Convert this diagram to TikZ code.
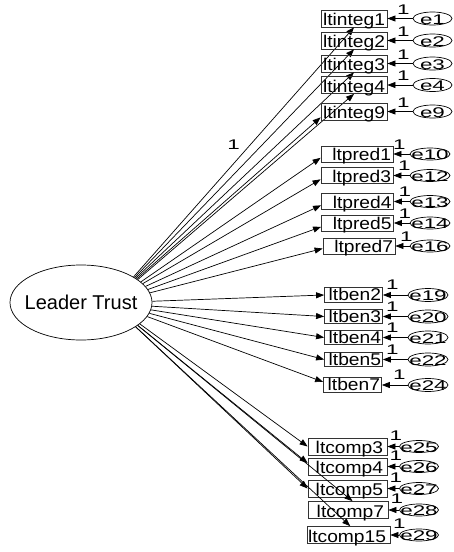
\documentclass[tikz,border=0pt]{standalone}
\usepackage{fontspec}
\usetikzlibrary{arrows.meta,shapes.geometric,calc}
\newfontfamily\boxfont[FakeStretch=1.13]{Liberation Sans}
\newfontfamily\errfont[FakeStretch=1.6]{Liberation Sans}
\newfontfamily\latfont{Liberation Sans}
\newcommand{\bt}[3]{\makebox[#1][r]{#2\hspace*{#3}}}
\tikzset{
 arr/.style={draw=black, line width=0.7pt, -{Triangle[length=8pt,width=6pt]}},
 obs/.style={draw=black!80, line width=0.8pt, rectangle, inner sep=0pt, text depth=1.5pt, text height=#1, font=\boxfont\fontsize{17}{17}\selectfont},
 err/.style={draw=black, line width=0.7pt, ellipse, inner sep=0pt, minimum width=39pt, minimum height=#1},
 errtxt/.style={font=\errfont\fontsize{14}{14}\selectfont, inner sep=0pt, yshift=-1pt},
 one/.style={font=\errfont\fontsize{14}{14}\selectfont, inner sep=0pt},
}
\begin{document}
\begin{tikzpicture}[x=1pt,y=-1pt]
\useasboundingbox (0,0) rectangle (454,552);
\node[draw, line width=0.7pt, ellipse, minimum width=142pt, minimum height=75pt, inner sep=0pt, font=\latfont\fontsize{20}{20}\selectfont] (LT) at (81,302.5) {\makebox[0pt]{Leader Trust}};

% ltinteg group
\foreach \nm/\yy/\ee/\ang/\tip in {ltinteg1/18.5/e1/26/south, ltinteg2/40.5/e2/25/south, ltinteg3/63.5/e3/24/south, ltinteg4/85/e4/22/south, ltinteg9/111.5/e9/23/190}{
  \node[obs=15.5pt] (\nm) at (354,\yy) {\bt{66pt}{\nm}{2pt}};
  \node[err=13pt, label={[errtxt]center:\ee}] (\ee) at (432.5,\yy) {};
  \draw[arr] (\ee) -- (\nm);
  \node[one] (one\ee) at ($(\nm.east)+(16,-9)$) {1};
  \draw[arr] (LT.\ang) -- (\nm.\tip);
}
\path (LT.26) -- node[one, pos=0.528, anchor=east, xshift=-10pt] (lam) {1} (ltinteg1.south);

% ltpred group
\foreach \nm/\xx/\yy/\ee/\ang/\tip/\lx in {ltpred1/357/154/e10/19/186/6, ltpred3/357/175.5/e12/17/186/11, ltpred4/357.5/201.5/e13/14/186/11, ltpred5/357.5/223/e14/11/186/11, ltpred7/359/246/e16/8/184/11}{
  \node[obs=14.5pt] (\nm) at (\xx,\yy) {\bt{72pt}{\nm}{2pt}};
  \node[err=12pt, minimum width=40pt, label={[errtxt]center:\ee}] (\ee) at (430,\yy) {};
  \draw[arr] (\ee) -- (\nm);
  \node[one] (one\ee) at ($(\nm.east)+(\lx,-9.5)$) {1};
  \draw[arr] (LT.\ang) -- (\nm.\tip);
}

% ltben group
\foreach \nm/\xx/\yy/\ee/\ang/\tip/\lx in {ltben2/353.5/295/e19/1/west/9.5, ltben3/353.5/316.5/e20/357/west/9.5, ltben4/353.5/337.5/e21/354/west/9.5, ltben5/353.5/359.5/e22/351/west/9.5, ltben7/352.5/385/e24/348/174/17.5}{
  \node[obs=13pt] (\nm) at (\xx,\yy) {\bt{58pt}{\nm}{1.5pt}};
  \node[err=13pt, minimum width=40pt, label={[errtxt]center:\ee}] (\ee) at (428,\yy) {};
  \draw[arr] (\ee) -- (\nm);
  \node[one] (one\ee) at ($(\nm.east)+(\lx,-10)$) {1};
  \draw[arr] (LT.\ang) -- (\nm.\tip);
}

% ltcomp group
\foreach \nm/\xx/\yy/\ww/\ee/\ang/\tip/\lx/\ly in {ltcomp3/347.5/446.5/79/e25/340/west/8.5/-11, ltcomp4/347.5/466.5/79/e26/338/175/8.5/-11, ltcomp5/347.5/488.5/79/e27/336/west/8.5/-11, ltcomp7/348/510/80/e28/338/63/8.5/-11, ltcomp15/348.5/535/83/e29/336/79/9/-11}{
  \node[obs=15.5pt] (\nm) at (\xx,\yy) {\bt{\ww pt}{\nm}{4pt}};
  \node[err=12pt, label={[errtxt]center:\ee}] (\ee) at (419,\yy) {};
  \draw[arr] (\ee) -- (\nm);
  \node[one] (one\ee) at ($(\nm.east)+(\lx,\ly)$) {1};
  \draw[arr] (LT.\ang) -- (\nm.\tip);
}
\end{tikzpicture}
\end{document}
